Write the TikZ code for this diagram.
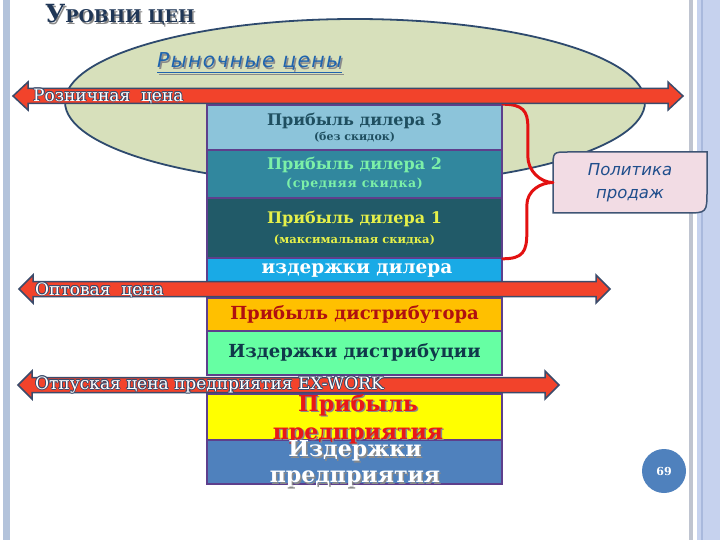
\documentclass[tikz,border=0pt]{standalone}
\usepackage{fontspec}
\setmainfont{DejaVu Serif}
\newfontfamily\sansf{DejaVu Sans}
\usetikzlibrary{calc}
\definecolor{stripL}{HTML}{B3C3DB}
\definecolor{stripG}{HTML}{BFC4D0}
\definecolor{stripB}{HTML}{C6D2EE}
\definecolor{stripD}{HTML}{A9B9DD}
\definecolor{ellF}{HTML}{D7E0BB}
\definecolor{ellD}{HTML}{2E4A6E}
\definecolor{titleC}{HTML}{1F3656}
\definecolor{mktC}{HTML}{1F64AE}
\definecolor{cA}{HTML}{8CC4DA}
\definecolor{cB}{HTML}{31879E}
\definecolor{cC}{HTML}{215A68}
\definecolor{cD}{HTML}{19AAE6}
\definecolor{cE}{HTML}{FFC000}
\definecolor{cF}{HTML}{66FFA3}
\definecolor{cG}{HTML}{FFFF00}
\definecolor{cH}{HTML}{4F81BD}
\definecolor{boxD}{HTML}{5E3F8C}
\definecolor{arrF}{HTML}{F2432B}
\definecolor{arrD}{HTML}{3B4B6B}
\definecolor{braceC}{HTML}{E31111}
\definecolor{polF}{HTML}{F2DCE4}
\definecolor{polD}{HTML}{3F5575}
\definecolor{polT}{HTML}{1F4E8C}
\definecolor{tA}{HTML}{1F4F60}
\definecolor{tB}{HTML}{7CF0A8}
\definecolor{tC}{HTML}{E5F04A}
\definecolor{tE}{HTML}{B01010}
\definecolor{tF}{HTML}{10384A}
\definecolor{tG}{HTML}{E81818}
\definecolor{shadC}{HTML}{8A8A8A}
\tikzset{
  box/.style={draw=boxD, line width=1.6, minimum width=295, align=center, font=\bfseries},
  arr/.style={fill=arrF, draw=arrD, line width=1.5, line join=miter},
  arrtxt/.style={anchor=west, inner sep=0pt, font=\fontsize{17}{17}\selectfont},
  brace/.style={draw=braceC, line width=3, line cap=round},
}
\newcommand\dblarr[4]{%
  \filldraw[arr] ({#1},{#3}) -- ({#1+#4},{#3-14}) -- ({#1+#4},{#3-7.5}) -- ({#2-#4},{#3-7.5}) -- ({#2-#4},{#3-14}) -- ({#2},{#3}) -- ({#2-#4},{#3+14}) -- ({#2-#4},{#3+7.5}) -- ({#1+#4},{#3+7.5}) -- ({#1+#4},{#3+14}) -- cycle;}
\newcommand\outl[3]{%
  \foreach \a in {0,45,...,315} \node[arrtxt,text=arrD] at ([shift={(\a:0.8pt)}]#2) {#3};
  \node[arrtxt,text=white] (#1) at (#2) {#3};}
\begin{document}
\begin{tikzpicture}[x=1pt,y=-1pt, every node/.style={inner sep=0pt}]
\useasboundingbox (0,0) rectangle (720,540);
\fill[white] (0,0) rectangle (720,540);
% side strips
\fill[stripL] (3,0) rectangle (10,540);
\fill[stripG] (689,0) rectangle (692.5,540);
\fill[stripB] (696.5,0) rectangle (720,540);
\draw[stripD, line width=1.2] (702,0) -- (702,540);
% ellipse
\filldraw[fill=ellF, draw=ellD, line width=1.8] (355,102) ellipse [x radius=290, y radius=83];
% title
\node[anchor=base west, text=shadC, font=\bfseries] at (46.5,24.5) {{\fontsize{25}{25}\selectfont У}{\fontsize{17.5}{17.5}\selectfont РОВНИ ЦЕН}};
\node[anchor=base west, text=titleC, font=\bfseries] (title) at (45,23) {{\fontsize{25}{25}\selectfont У}{\fontsize{17.5}{17.5}\selectfont РОВНИ ЦЕН}};
% market prices
\node[anchor=base west, text=shadC, font=\sansf\itshape\fontsize{20.5}{20.5}\selectfont\addfontfeatures{LetterSpace=6}] at (158.5,69.5) {\underline{Рыночные цены}};
\node[anchor=base west, text=mktC, font=\sansf\itshape\fontsize{20.5}{20.5}\selectfont\addfontfeatures{LetterSpace=6}] (mkt) at (157,68) {\underline{Рыночные цены}};
% stack
\node[box, fill=cA, minimum height=45] (b1) at (354.5,127.5) {\color{tA}{\fontsize{16}{18}\selectfont Прибыль дилера 3}\\[3pt]\color{tA}{\fontsize{11}{12}\selectfont (без скидок)}};
\node[box, fill=cB, minimum height=48] (b2) at (354.5,174) {\color{tB}{\fontsize{16}{18}\selectfont Прибыль дилера 2}\\[4pt]\color{tB}{\fontsize{12.5}{13}\selectfont\addfontfeatures{LetterSpace=5} (средняя скидка)}};
\node[box, fill=cC, minimum height=60] (b3) at (354.5,228) {\color{tC}{\fontsize{16}{18}\selectfont Прибыль дилера 1}\\[7pt]\color{tC}{\fontsize{11.5}{12}\selectfont (максимальная скидка)}};
\node[box, fill=cD, minimum height=26] (b4) at (354.5,271) {};
\node[font=\bfseries\fontsize{18.5}{18.5}\selectfont, text=white] (t4) at (357,270) {издержки дилера};
\node[box, fill=cE, minimum height=33] (b6) at (354.5,314.5) {\color{tE}{\fontsize{18}{18}\selectfont Прибыль дистрибутора}};
\node[box, fill=cF, minimum height=44] (b7) at (354.5,353) {\color{tF}{\fontsize{18}{18}\selectfont Издержки дистрибуции}};
\node[box, fill=cG, minimum height=46] (b8) at (354.5,417) {};
\node[box, fill=cH, minimum height=44] (b9) at (354.5,462) {};
\node[align=center, font=\bfseries\fontsize{22}{28}\selectfont, text=shadC] at (359.5,420.5) {Прибыль\\предприятия};
\node[align=center, font=\bfseries\fontsize{22}{28}\selectfont, text=tG] (t8) at (358,419) {Прибыль\\предприятия};
\node[align=center, font=\bfseries\fontsize{22}{26}\selectfont, text=shadC] at (356.5,465.5) {Издержки\\предприятия};
\node[align=center, font=\bfseries\fontsize{22}{26}\selectfont, text=white] (t9) at (355,464) {Издержки\\предприятия};
% policy box
\filldraw[fill=polF, draw=polD, line width=1.5] (553,213) -- (553,168) .. controls (553,152) .. (568,152) -- (707,152) -- (707,190) .. controls (707,213) .. (685,213) -- cycle;
\node[minimum width=154, minimum height=61, align=center, text=polT, font=\sansf\itshape\fontsize{16.5}{23}\selectfont] (pol) at (630,182.5) {Политика\\продаж};
% brace
\draw[brace] (b1.north east) .. controls +(20,0) and +(0,-15) .. ++(25,22) -- ++(0,30) .. controls +(0,15) and +(-12,0) .. (pol.west);
\draw[brace] (pol.west) .. controls +(-12,0) and +(0,-15) .. ++(-26,23) -- ++(0,28) .. controls +(0,18) and +(20,0) .. (b3.south east);
% arrows
\dblarr{13}{683}{96}{15}
\dblarr{19}{610}{289}{14}
\dblarr{18}{559}{385}{14}
\outl{retail}{33,96}{Розничная\ \ цена}
\outl{whole}{35,290}{Оптовая\ \ цена}
\outl{exw}{35,385}{Отпуская цена предприятия EX-WORK}
% page number
\node[circle, fill=cH, minimum size=44, text=white, font=\bfseries\fontsize{11}{11}\selectfont] (pg) at (664,471) {69};
\end{tikzpicture}
\end{document}
